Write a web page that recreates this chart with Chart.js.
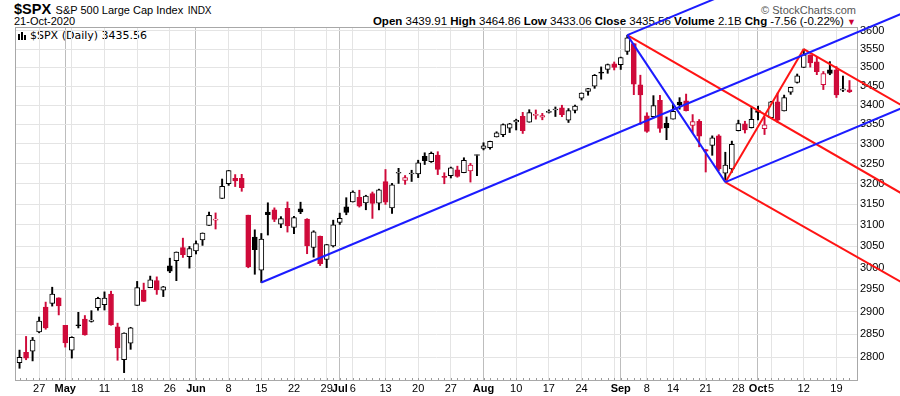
<!DOCTYPE html>
<html>
<head>
<meta charset="utf-8">
<script src="https://cdn.jsdelivr.net/npm/chart.js@4.4.0/dist/chart.umd.min.js"></script>
<style>
  html, body { margin: 0; padding: 0; background: #fff; }
  #wrap { position: relative; width: 900px; height: 396px; font-family: "Liberation Sans", Arial, sans-serif; color: #000; }
  #wrap canvas { position: absolute; left: 0; top: 0; z-index: 2; }
  .txt { position: absolute; white-space: nowrap; z-index: 1; }
  .lbl { font-weight: bold; }
  .ico { display: inline-block; position: relative; width: 9px; height: 8px; margin-right: 3px; vertical-align: -1px; }
  .ico i { position: absolute; bottom: 0; width: 2px; background: #000; }
</style>
</head>
<body>
<div id="wrap">
  <div class="txt" style="left:14px;top:0px;line-height:17px">
    <span style="font-weight:bold;font-size:14.5px">$SPX</span>
    <span style="font-size:11px">S&amp;P 500 Large Cap Index</span>
    <span style="font-size:10px">INDX</span>
  </div>
  <div class="txt" style="left:14px;top:15px;font-size:11px;line-height:13px">21-Oct-2020</div>
  <div class="txt" style="right:44px;top:4px;font-size:11px;color:#555;line-height:13px">&copy; StockCharts.com</div>
  <div class="txt" style="right:44px;top:15px;font-size:11.5px;line-height:13px">
    <span class="lbl">Open</span> 3439.91
    <span class="lbl">High</span> 3464.86
    <span class="lbl">Low</span> 3433.06
    <span class="lbl">Close</span> 3435.56
    <span class="lbl">Volume</span> 2.1B
    <span class="lbl">Chg</span> -7.56 (-0.22%)
    <span style="color:#cc0033;font-size:9px">&#9660;</span>
  </div>
  <div class="txt" style="left:18px;top:29px;font-family:'DejaVu Sans',sans-serif;font-size:11px;line-height:13px">
    <span class="ico"><i style="left:0;height:6px"></i><i style="left:3px;height:8px"></i><i style="left:6px;height:5px"></i></span>$SPX (Daily) 3435.56
  </div>
  <canvas id="chart" width="900" height="396"></canvas>
</div>
<script>
// ── Data: $SPX daily, 22-Apr-2020 .. 21-Oct-2020 (x = trading-day index) ──
const dates = [
  '04-22','04-23','04-24','04-27','04-28','04-29','04-30',
  '05-01','05-04','05-05','05-06','05-07','05-08',
  '05-11','05-12','05-13','05-14','05-15',
  '05-18','05-19','05-20','05-21','05-22',
  '05-26','05-27','05-28','05-29',
  '06-01','06-02','06-03','06-04','06-05',
  '06-08','06-09','06-10','06-11','06-12',
  '06-15','06-16','06-17','06-18','06-19',
  '06-22','06-23','06-24','06-25','06-26',
  '06-29','06-30','07-01','07-02',
  '07-06','07-07','07-08','07-09','07-10',
  '07-13','07-14','07-15','07-16','07-17',
  '07-20','07-21','07-22','07-23','07-24',
  '07-27','07-28','07-29','07-30','07-31',
  '08-03','08-04','08-05','08-06','08-07',
  '08-10','08-11','08-12','08-13','08-14',
  '08-17','08-18','08-19','08-20','08-21',
  '08-24','08-25','08-26','08-27','08-28',
  '08-31','09-01','09-02','09-03','09-04',
  '09-08','09-09','09-10','09-11',
  '09-14','09-15','09-16','09-17','09-18',
  '09-21','09-22','09-23','09-24','09-25',
  '09-28','09-29','09-30','10-01','10-02',
  '10-05','10-06','10-07','10-08','10-09',
  '10-12','10-13','10-14','10-15','10-16',
  '10-19','10-20','10-21'
];
const opens = [
  2787.89, 2810.42, 2812.64, 2854.65, 2909.96, 2918.46, 2930.91,
  2869.09, 2815.01, 2868.88, 2883.14, 2878.26, 2908.83,
  2915.46, 2939.50, 2865.86, 2794.54, 2829.95,
  2913.86, 2948.59, 2953.63, 2969.95, 2948.05,
  3004.08, 3015.65, 3046.61, 3025.17,
  3038.78, 3064.78, 3098.90, 3111.56, 3163.84,
  3199.92, 3213.32, 3213.42, 3123.53, 3071.04,
  2993.76, 3131.00, 3136.13, 3101.64, 3140.29,
  3094.42, 3138.70, 3114.40, 3046.60, 3073.20,
  3018.59, 3050.20, 3105.92, 3143.64,
  3155.29, 3166.44, 3153.07, 3176.17, 3152.47,
  3205.08, 3141.11, 3225.98, 3208.36, 3224.21,
  3224.29, 3268.52, 3254.86, 3271.64, 3218.58,
  3219.84, 3234.27, 3227.22, 3231.76, 3270.45,
  3288.26, 3289.92, 3317.37, 3323.17, 3340.05,
  3356.04, 3370.34, 3355.46, 3372.95, 3368.66,
  3380.86, 3387.04, 3392.51, 3360.48, 3386.01,
  3418.09, 3435.95, 3449.97, 3485.14, 3494.69,
  3509.73, 3507.44, 3543.76, 3564.74, 3453.60,
  3371.88, 3369.82, 3412.56, 3352.70,
  3363.56, 3407.73, 3411.23, 3346.86, 3357.38,
  3285.57, 3295.75, 3320.11, 3226.14, 3236.66,
  3333.90, 3350.92, 3341.21, 3385.87, 3338.94,
  3367.27, 3408.74, 3384.56, 3434.28, 3459.67,
  3500.02, 3534.01, 3515.47, 3453.72, 3493.50,
  3493.66, 3439.38, 3439.91
];
const highs = [
  2815.10, 2844.90, 2842.71, 2887.72, 2921.15, 2954.86, 2930.91,
  2869.09, 2844.24, 2898.23, 2891.11, 2901.92, 2932.16,
  2944.25, 2945.82, 2874.14, 2852.80, 2865.01,
  2968.09, 2964.21, 2980.29, 2978.50, 2956.76,
  3021.72, 3036.25, 3068.67, 3049.17,
  3062.18, 3081.07, 3130.94, 3128.91, 3211.72,
  3233.13, 3222.71, 3223.27, 3123.53, 3088.42,
  3079.76, 3153.45, 3141.16, 3120.00, 3155.53,
  3120.92, 3154.90, 3115.01, 3086.25, 3073.73,
  3053.89, 3111.51, 3128.44, 3165.81,
  3182.59, 3184.15, 3171.80, 3179.78, 3186.82,
  3235.32, 3200.95, 3238.28, 3220.39, 3233.52,
  3258.61, 3277.29, 3279.32, 3279.99, 3227.26,
  3241.43, 3243.72, 3264.74, 3250.92, 3272.17,
  3302.73, 3306.84, 3330.77, 3351.03, 3352.54,
  3363.29, 3381.01, 3387.89, 3387.24, 3378.51,
  3387.59, 3395.06, 3399.54, 3390.80, 3399.96,
  3432.09, 3444.21, 3481.07, 3501.38, 3509.23,
  3514.77, 3528.03, 3588.11, 3564.85, 3479.15,
  3379.97, 3424.77, 3425.55, 3368.95,
  3402.93, 3419.48, 3428.92, 3375.17, 3362.27,
  3285.57, 3320.31, 3323.35, 3278.70, 3306.88,
  3360.74, 3357.92, 3393.56, 3397.18, 3369.10,
  3409.57, 3431.56, 3426.26, 3447.28, 3482.34,
  3549.85, 3534.01, 3527.94, 3489.08, 3515.76,
  3502.42, 3476.93, 3464.86
];
const lows = [
  2775.95, 2794.26, 2791.76, 2852.89, 2860.71, 2912.16, 2892.47,
  2821.61, 2797.85, 2863.55, 2847.65, 2876.48, 2902.88,
  2903.44, 2869.59, 2793.15, 2766.64, 2816.78,
  2913.86, 2922.35, 2953.63, 2938.57, 2933.59,
  2988.17, 2969.75, 3023.40, 2998.61,
  3031.54, 3051.64, 3098.90, 3090.41, 3163.84,
  3196.00, 3193.11, 3181.49, 2999.49, 2984.47,
  2965.66, 3076.06, 3108.03, 3093.51, 3083.11,
  3079.39, 3127.12, 3032.13, 3024.01, 3004.63,
  2999.74, 3047.83, 3101.17, 3124.52,
  3155.29, 3142.93, 3136.53, 3115.70, 3136.22,
  3149.43, 3127.66, 3200.76, 3198.59, 3205.65,
  3215.16, 3247.77, 3253.10, 3222.66, 3200.05,
  3214.25, 3216.17, 3227.22, 3204.13, 3220.26,
  3284.53, 3286.37, 3317.37, 3318.14, 3328.72,
  3335.44, 3326.44, 3355.46, 3363.35, 3361.64,
  3379.22, 3370.15, 3369.66, 3354.69, 3379.31,
  3413.13, 3425.84, 3444.15, 3468.35, 3484.32,
  3493.25, 3494.60, 3535.23, 3427.41, 3349.63,
  3329.27, 3366.84, 3329.25, 3310.47,
  3363.56, 3389.25, 3384.45, 3328.82, 3292.40,
  3229.10, 3270.95, 3232.57, 3209.45, 3228.44,
  3332.91, 3327.54, 3340.47, 3361.39, 3323.69,
  3367.27, 3354.54, 3384.56, 3428.15, 3458.07,
  3499.61, 3500.86, 3480.55, 3440.89, 3480.45,
  3419.93, 3435.65, 3433.06
];
const closes = [
  2799.31, 2797.80, 2836.74, 2878.48, 2863.39, 2939.51, 2912.43,
  2830.71, 2842.74, 2868.44, 2848.42, 2881.19, 2929.80,
  2930.32, 2870.12, 2820.00, 2852.50, 2863.70,
  2953.91, 2922.94, 2971.61, 2948.51, 2955.45,
  2991.77, 3036.13, 3029.73, 3044.31,
  3055.73, 3080.82, 3122.87, 3112.35, 3193.93,
  3232.39, 3207.18, 3190.14, 3002.10, 3041.31,
  3066.59, 3124.74, 3113.49, 3115.34, 3097.74,
  3117.86, 3131.29, 3050.33, 3083.76, 3009.05,
  3053.24, 3100.29, 3115.86, 3130.01,
  3179.72, 3145.32, 3169.94, 3152.05, 3185.04,
  3155.22, 3197.52, 3226.56, 3215.57, 3224.73,
  3251.84, 3257.30, 3276.02, 3235.66, 3215.63,
  3239.41, 3218.44, 3258.44, 3246.22, 3271.12,
  3294.61, 3306.51, 3327.77, 3349.16, 3351.28,
  3360.47, 3333.69, 3380.35, 3373.43, 3372.85,
  3381.99, 3389.78, 3374.85, 3385.51, 3397.16,
  3431.28, 3443.62, 3478.73, 3484.55, 3508.01,
  3500.31, 3526.65, 3580.84, 3455.06, 3426.96,
  3331.84, 3398.96, 3339.19, 3340.97,
  3383.54, 3401.20, 3385.49, 3357.01, 3319.47,
  3281.06, 3315.57, 3236.92, 3246.59, 3298.46,
  3351.60, 3335.47, 3363.00, 3380.80, 3348.42,
  3408.60, 3360.97, 3419.44, 3446.83, 3477.14,
  3534.22, 3511.93, 3488.67, 3483.34, 3483.81,
  3426.92, 3443.12, 3435.56
];
const prevClose = 2736.56; // 21-Apr close, colours the first candle

// Trend lines: [fromIndex, fromPrice, toIndex, toPrice]
const blueLines = [
  [37, 2965.66, 135, 3648],
  [93, 3588.11, 110, 3718],
  [93, 3588.11, 108, 3204],
  [108, 3204, 135, 3392]
];
const redLines = [
  [93, 3588.11, 135, 3176],
  [108, 3204, 120, 3549.85],
  [120, 3549.85, 135, 3399],
  [108, 3204, 135, 2966]
];

// Axis ticks
const xTickIdx = [3, 7, 8, 13, 18, 23, 27, 32, 37, 42, 47, 49, 51, 56, 61, 66, 71, 76, 81, 86, 91, 92, 96, 100, 105, 110, 113, 115, 120, 125];
const xTickLabels = ['27','May','','11','18','26','Jun','8','15','22','29','Jul','6','13','20','27','Aug','10','17','24','','Sep','8','14','21','28','Oct','5','12','19'];
const monthIdx = [7, 27, 49, 71, 92, 113];
const yTicks = [2800, 2850, 2900, 2950, 3000, 3050, 3100, 3150, 3200, 3250, 3300, 3350, 3400, 3450, 3500, 3550, 3600];

// ── Styling ────────────────────────────────────────────────────────────
const RED = '#cf0a3a';
const BLACK = '#000000';
const LINE_BLUE = '#1c1cff';
const LINE_RED = '#ff1414';
const GRID = '#e4e4e4';
const GRID_MONTH = '#bdbdbd';
const FONT = '"Liberation Sans", Arial, sans-serif';

function candleColor(i) {
  const prev = i ? closes[i - 1] : prevClose;
  return closes[i] >= prev ? BLACK : RED;
}

// Plot frame + small day ticks on the bottom edge
const framePlugin = {
  id: 'frame',
  beforeDatasetsDraw: function (chart) {
    const a = chart.chartArea;
    const ctx = chart.ctx;
    const xs = chart.scales.x;
    ctx.save();
    ctx.strokeStyle = '#a8a8a8';
    ctx.lineWidth = 1;
    ctx.strokeRect(Math.round(a.left) - 0.5, Math.round(a.top) - 0.5, Math.round(a.right - a.left) + 1, Math.round(a.bottom - a.top) + 1);
    ctx.strokeStyle = '#9a9a9a';
    ctx.beginPath();
    dates.forEach(function (d, i) {
      const x = Math.round(xs.getPixelForValue(i)) + 0.5;
      ctx.moveTo(x, a.bottom);
      ctx.lineTo(x, a.bottom - 2);
    });
    ctx.stroke();
    ctx.restore();
  }
};

function lineSet(l, color) {
  return {
    type: 'line',
    data: [{ x: l[0], y: l[1] }, { x: l[2], y: l[3] }],
    borderColor: color,
    borderWidth: 2,
    pointRadius: 0,
    fill: false,
    tension: 0,
    clip: false,
    order: 0
  };
}

Chart.defaults.font.family = FONT;
Chart.defaults.font.size = 11;
Chart.defaults.color = '#000';

new Chart(document.getElementById('chart'), {
  type: 'bar',
  data: {
    datasets: [
      {
        label: 'wick',
        data: dates.map(function (d, i) { return { x: i, y: [lows[i], highs[i]] }; }),
        backgroundColor: dates.map(function (d, i) { return candleColor(i); }),
        borderWidth: 0,
        barThickness: 1.3,
        grouped: false,
        order: 2
      },
      {
        label: 'body',
        data: dates.map(function (d, i) { return { x: i, y: [opens[i], closes[i]] }; }),
        backgroundColor: dates.map(function (d, i) { return closes[i] > opens[i] ? '#ffffff' : candleColor(i); }),
        borderColor: dates.map(function (d, i) { return candleColor(i); }),
        borderWidth: 1,
        borderSkipped: false,
        barThickness: 5,
        minBarLength: 1,
        grouped: false,
        order: 1
      }
    ].concat(
      blueLines.map(function (l) { return lineSet(l, LINE_BLUE); }),
      redLines.map(function (l) { return lineSet(l, LINE_RED); })
    )
  },
  options: {
    responsive: false,
    animation: false,
    events: [],
    layout: { padding: { top: 28, left: 16, right: 0, bottom: 0 } },
    plugins: { legend: { display: false }, tooltip: { enabled: false } },
    scales: {
      x: {
        type: 'linear',
        min: -0.54,
        max: 128.15,
        offset: false,
        bounds: 'data',
        afterBuildTicks: function (s) { s.ticks = xTickIdx.map(function (v) { return { value: v }; }); },
        afterFit: function (s) { s.height = 16; },
        ticks: {
          autoSkip: false,
          maxRotation: 0,
          padding: 2,
          callback: function (v, i) { return xTickLabels[i]; },
          font: function (c) {
            return (c.tick && monthIdx.indexOf(c.tick.value) >= 0)
              ? { family: FONT, size: 11, weight: 'bold' }
              : { family: FONT, size: 11, weight: 'normal' };
          }
        },
        grid: {
          offset: false,
          drawTicks: false,
          color: function (c) { return (c.tick && monthIdx.indexOf(c.tick.value) >= 0) ? GRID_MONTH : GRID; }
        },
        border: { display: false }
      },
      y: {
        type: 'logarithmic',
        position: 'right',
        min: 2751,
        max: 3608,
        bounds: 'data',
        beginAtZero: false,
        afterBuildTicks: function (s) { s.ticks = yTicks.map(function (v) { return { value: v }; }); },
        afterFit: function (s) { s.width = 43; },
        ticks: {
          autoSkip: false,
          padding: 3,
          callback: function (v) { return String(v); }
        },
        grid: { drawTicks: false, color: GRID },
        border: { display: false }
      }
    }
  },
  plugins: [framePlugin]
});
</script>
</body>
</html>
